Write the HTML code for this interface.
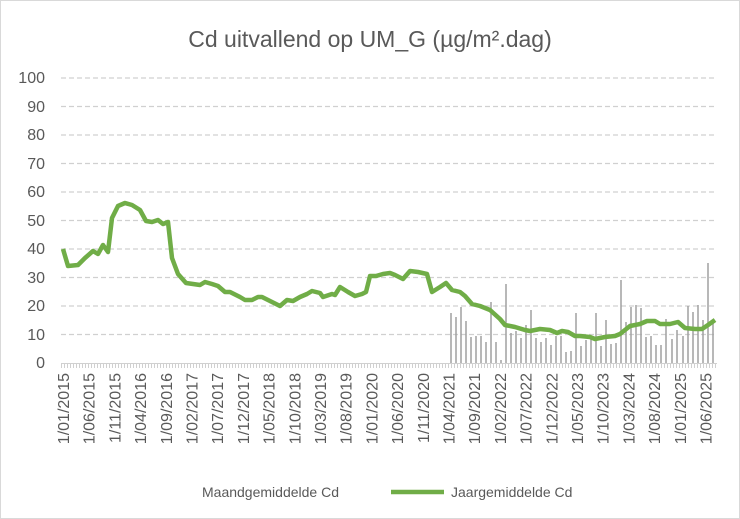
<!DOCTYPE html>
<html><head><meta charset="utf-8"><style>body{margin:0;background:#fff}svg{display:block}text{font-family:"Liberation Sans",sans-serif;fill:#595959}</style></head><body>
<svg width="740" height="519" viewBox="0 0 740 519" xmlns="http://www.w3.org/2000/svg">
<rect x="0.5" y="0.5" width="739" height="518" fill="#fff" stroke="#d9d9d9"/>
<text x="370" y="47" font-size="23" text-anchor="middle">Cd uitvallend op UM_G (µg/m².dag)</text>
<g stroke="#d0d0d0" stroke-width="1.3" stroke-dasharray="5,3">
<line x1="61" x2="717" y1="78" y2="78"/><line x1="61" x2="717" y1="106.5" y2="106.5"/><line x1="61" x2="717" y1="135" y2="135"/><line x1="61" x2="717" y1="163.5" y2="163.5"/><line x1="61" x2="717" y1="192" y2="192"/><line x1="61" x2="717" y1="220.5" y2="220.5"/><line x1="61" x2="717" y1="249" y2="249"/><line x1="61" x2="717" y1="277.5" y2="277.5"/><line x1="61" x2="717" y1="306" y2="306"/><line x1="61" x2="717" y1="334.5" y2="334.5"/>
</g>
<line x1="61" x2="717" y1="363.5" y2="363.5" stroke="#d0d0d0"/>
<line x1="61" x2="717" y1="366" y2="366" stroke="#d0d0d0" stroke-width="4" stroke-dasharray="1,2"/>
<g font-size="16" text-anchor="end">
<text x="45" y="83">100</text><text x="45" y="112">90</text><text x="45" y="140">80</text><text x="45" y="169">70</text><text x="45" y="197">60</text><text x="45" y="226">50</text><text x="45" y="254">40</text><text x="45" y="283">30</text><text x="45" y="311">20</text><text x="45" y="340">10</text><text x="45" y="368">0</text>
</g>
<g stroke="#a0a0a0" stroke-width="1.5">
<line x1="451" x2="451" y1="313" y2="363"/><line x1="456" x2="456" y1="317" y2="363"/><line x1="461" x2="461" y1="307" y2="363"/><line x1="466" x2="466" y1="321" y2="363"/><line x1="471" x2="471" y1="337" y2="363"/><line x1="476" x2="476" y1="336" y2="363"/><line x1="481" x2="481" y1="336" y2="363"/><line x1="486" x2="486" y1="342" y2="363"/><line x1="491" x2="491" y1="302" y2="363"/><line x1="496" x2="496" y1="342" y2="363"/><line x1="501" x2="501" y1="360" y2="363"/><line x1="506" x2="506" y1="284" y2="363"/><line x1="511" x2="511" y1="333" y2="363"/><line x1="516" x2="516" y1="331" y2="363"/><line x1="521" x2="521" y1="338" y2="363"/><line x1="526" x2="526" y1="325" y2="363"/><line x1="531" x2="531" y1="310" y2="363"/><line x1="536" x2="536" y1="338" y2="363"/><line x1="541" x2="541" y1="342" y2="363"/><line x1="546" x2="546" y1="338" y2="363"/><line x1="551" x2="551" y1="345" y2="363"/><line x1="556" x2="556" y1="336" y2="363"/><line x1="561" x2="561" y1="336" y2="363"/><line x1="566" x2="566" y1="352" y2="363"/><line x1="571" x2="571" y1="351" y2="363"/><line x1="576" x2="576" y1="313" y2="363"/><line x1="581" x2="581" y1="346" y2="363"/><line x1="586" x2="586" y1="340" y2="363"/><line x1="591" x2="591" y1="336" y2="363"/><line x1="596" x2="596" y1="313" y2="363"/><line x1="601" x2="601" y1="346" y2="363"/><line x1="606" x2="606" y1="320" y2="363"/><line x1="611" x2="611" y1="344" y2="363"/><line x1="616" x2="616" y1="343" y2="363"/><line x1="621" x2="621" y1="280" y2="363"/><line x1="626" x2="626" y1="322" y2="363"/><line x1="631" x2="631" y1="307" y2="363"/><line x1="636" x2="636" y1="305" y2="363"/><line x1="641" x2="641" y1="308" y2="363"/><line x1="646" x2="646" y1="337" y2="363"/><line x1="651" x2="651" y1="336" y2="363"/><line x1="656" x2="656" y1="345" y2="363"/><line x1="661" x2="661" y1="345" y2="363"/><line x1="666" x2="666" y1="319" y2="363"/><line x1="672" x2="672" y1="339" y2="363"/><line x1="677" x2="677" y1="330" y2="363"/><line x1="683" x2="683" y1="336" y2="363"/><line x1="688" x2="688" y1="306" y2="363"/><line x1="693" x2="693" y1="312" y2="363"/><line x1="698" x2="698" y1="305" y2="363"/><line x1="703" x2="703" y1="320" y2="363"/><line x1="708" x2="708" y1="263" y2="363"/><line x1="713" x2="713" y1="320" y2="363"/>
</g>
<polyline fill="none" stroke="#70ad47" stroke-width="4.5" stroke-linejoin="round" points="63,249 68,266 78,265 85,258 93,251 98,254 103,245 108,252 112,218 118,206 125,203 132,205 140,210 146,221 152,222 158,220 163,224 168,222 172,258 178,274 186,283 200,285 205,282 212,284 218,286 225,292 230,292 240,297 245,300 252,300 258,297 262,297 270,301 280,306 287,300 293,301 300,297 307,294 312,291 320,293 323,297 332,294 335,295 340,287 348,292 355,296 362,294 366,292 370,276 376,276 383,274 390,273 395,275 403,279 410,271 418,272 427,274 432,292 440,287 446,283 452,290 460,292 465,296 472,304 480,306 490,310 500,319 505,325 515,327 525,330 530,331 540,329 550,330 557,333 562,331 568,332 575,336 580,336 590,337 595,339 605,337 615,336 620,334 630,326 640,324 647,321 655,321 660,324 670,324 678,322 685,328 695,329 702,329 708,325 715,320"/>
<g font-size="16" text-anchor="end">
<text transform="translate(69,373) rotate(-90)">1/01/2015</text>
<text transform="translate(94.7,373) rotate(-90)">1/06/2015</text>
<text transform="translate(120.4,373) rotate(-90)">1/11/2015</text>
<text transform="translate(146.1,373) rotate(-90)">1/04/2016</text>
<text transform="translate(171.8,373) rotate(-90)">1/09/2016</text>
<text transform="translate(197.5,373) rotate(-90)">1/02/2017</text>
<text transform="translate(223.2,373) rotate(-90)">1/07/2017</text>
<text transform="translate(248.9,373) rotate(-90)">1/12/2017</text>
<text transform="translate(274.6,373) rotate(-90)">1/05/2018</text>
<text transform="translate(300.3,373) rotate(-90)">1/10/2018</text>
<text transform="translate(326,373) rotate(-90)">1/03/2019</text>
<text transform="translate(351.7,373) rotate(-90)">1/08/2019</text>
<text transform="translate(377.4,373) rotate(-90)">1/01/2020</text>
<text transform="translate(403.1,373) rotate(-90)">1/06/2020</text>
<text transform="translate(428.8,373) rotate(-90)">1/11/2020</text>
<text transform="translate(454.5,373) rotate(-90)">1/04/2021</text>
<text transform="translate(480.2,373) rotate(-90)">1/09/2021</text>
<text transform="translate(505.9,373) rotate(-90)">1/02/2022</text>
<text transform="translate(531.6,373) rotate(-90)">1/07/2022</text>
<text transform="translate(557.3,373) rotate(-90)">1/12/2022</text>
<text transform="translate(583,373) rotate(-90)">1/05/2023</text>
<text transform="translate(608.7,373) rotate(-90)">1/10/2023</text>
<text transform="translate(634.4,373) rotate(-90)">1/03/2024</text>
<text transform="translate(660.1,373) rotate(-90)">1/08/2024</text>
<text transform="translate(685.8,373) rotate(-90)">1/01/2025</text>
<text transform="translate(711.5,373) rotate(-90)">1/06/2025</text>
</g>
<line x1="391" x2="444" y1="492" y2="492" stroke="#70ad47" stroke-width="4.5"/>
<text x="202" y="497" font-size="14">Maandgemiddelde Cd</text>
<text x="451" y="497" font-size="14">Jaargemiddelde Cd</text>
</svg></body></html>
